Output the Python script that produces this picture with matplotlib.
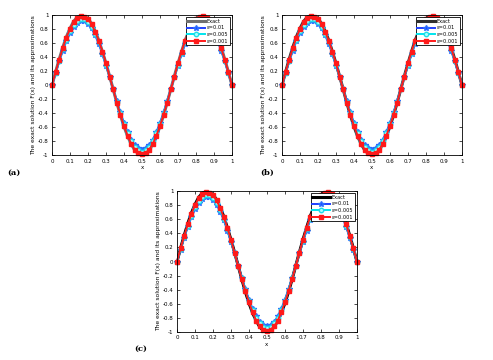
import matplotlib
matplotlib.use("Agg")
import matplotlib.pyplot as plt

x = [i / 50 for i in range(51)]
exact = [0, 0.19, 0.37, 0.54, 0.69, 0.81, 0.91, 0.97, 1.00, 0.99, 0.95, 0.88, 0.77, 0.64, 0.48, 0.31, 0.13,
         -0.06, -0.25, -0.43, -0.59, -0.73, -0.84, -0.93, -0.98, -1.00, -0.98, -0.93, -0.84, -0.73, -0.59,
         -0.43, -0.25, -0.06, 0.13, 0.31, 0.48, 0.64, 0.77, 0.88, 0.95, 0.99, 1.00, 0.97, 0.91, 0.81, 0.69,
         0.54, 0.37, 0.19, 0]
eps_01 = [0, 0.17, 0.34, 0.49, 0.63, 0.74, 0.83, 0.89, 0.92, 0.91, 0.87, 0.81, 0.71, 0.59, 0.44, 0.28, 0.12,
          -0.06, -0.23, -0.39, -0.54, -0.67, -0.78, -0.86, -0.90, -0.92, -0.90, -0.86, -0.78, -0.67, -0.54,
          -0.39, -0.23, -0.06, 0.12, 0.28, 0.44, 0.59, 0.71, 0.81, 0.87, 0.91, 0.92, 0.89, 0.83, 0.74, 0.63,
          0.49, 0.34, 0.17, 0]
eps_005 = [0, 0.18, 0.35, 0.51, 0.65, 0.77, 0.86, 0.92, 0.95, 0.94, 0.90, 0.83, 0.73, 0.61, 0.46, 0.29, 0.12,
           -0.06, -0.24, -0.40, -0.56, -0.69, -0.80, -0.88, -0.93, -0.95, -0.93, -0.88, -0.80, -0.69, -0.56,
           -0.40, -0.24, -0.06, 0.12, 0.29, 0.46, 0.61, 0.73, 0.83, 0.90, 0.94, 0.95, 0.92, 0.86, 0.77, 0.65,
           0.51, 0.35, 0.18, 0]
eps_001 = [0, 0.19, 0.36, 0.53, 0.68, 0.80, 0.90, 0.96, 0.99, 0.98, 0.94, 0.87, 0.76, 0.63, 0.48, 0.31, 0.12,
           -0.06, -0.25, -0.42, -0.58, -0.72, -0.84, -0.92, -0.97, -0.99, -0.97, -0.92, -0.84, -0.72, -0.58,
           -0.42, -0.25, -0.06, 0.12, 0.31, 0.48, 0.63, 0.76, 0.87, 0.94, 0.98, 0.99, 0.96, 0.90, 0.80, 0.68,
           0.53, 0.36, 0.19, 0]

xticks = [0, 0.1, 0.2, 0.3, 0.4, 0.5, 0.6, 0.7, 0.8, 0.9, 1]
xticklabels = ["0", "0.1", "0.2", "0.3", "0.4", "0.5", "0.6", "0.7", "0.8", "0.9", "1"]
yticks = [-1, -0.8, -0.6, -0.4, -0.2, 0, 0.2, 0.4, 0.6, 0.8, 1]
yticklabels = ["-1", "-0.8", "-0.6", "-0.4", "-0.2", "0", "0.2", "0.4", "0.6", "0.8", "1"]
legend_labels = ["Exact", "\u03b5=0.01", "\u03b5=0.005", "\u03b5=0.001"]
panel_labels = ["(a)", "(b)", "(c)"]
exact_colors = ["#707070", "#303030", "#000000"]

fig = plt.figure(figsize=(4.93, 3.6), dpi=100)
positions = [
    [0.1055, 0.569, 0.365, 0.389],
    [0.572, 0.569, 0.365, 0.389],
    [0.359, 0.078, 0.365, 0.391],
]
label_pos = [(0.014, 0.513), (0.528, 0.513), (0.272, 0.025)]

for i, pos in enumerate(positions):
    ax = fig.add_axes(pos)
    ax.plot(x, exact, color=exact_colors[i], lw=2.2, label=legend_labels[0])
    ax.plot(x, eps_01, color="#2040ff", lw=1.4, marker="*", ms=3.8, mec="#2a6cff",
            label=legend_labels[1], clip_on=False)
    ax.plot(x, eps_005, color="#00e5ee", lw=1.4, marker="o", ms=3.2, mfc="#a8ffff", mec="#20dce8",
            label=legend_labels[2], clip_on=False)
    ax.plot(x, eps_001, color="#ff1a1a", lw=1.4, marker="s", ms=3.4, mec="#ff1a1a",
            label=legend_labels[3], clip_on=False)
    ax.set_xlim(0, 1)
    ax.set_ylim(-1, 1)
    ax.set_xticks(xticks)
    ax.set_xticklabels(xticklabels)
    ax.set_yticks(yticks)
    ax.set_yticklabels(yticklabels)
    ax.tick_params(direction="in", top=True, right=True, labelsize=4, length=2, width=0.5, pad=2.5)
    for s in ax.spines.values():
        s.set_linewidth(0.6)
    ax.set_xlabel("x", fontsize=4, labelpad=1)
    ax.set_ylabel("The exact solution F(x) and its approximations", fontsize=4.3, labelpad=1)
    leg = ax.legend(loc="upper right", fontsize=3.6, handlelength=3.6, borderpad=0.3,
                    labelspacing=0.35, fancybox=False, framealpha=1, edgecolor="black",
                    borderaxespad=0.4, handletextpad=0.3)
    leg.get_frame().set_linewidth(0.6)
    leg.set_zorder(5)
    fig.text(label_pos[i][0], label_pos[i][1], panel_labels[i], fontsize=6,
             family="DejaVu Serif", fontweight="bold")

fig.savefig("out.png", dpi=100)
